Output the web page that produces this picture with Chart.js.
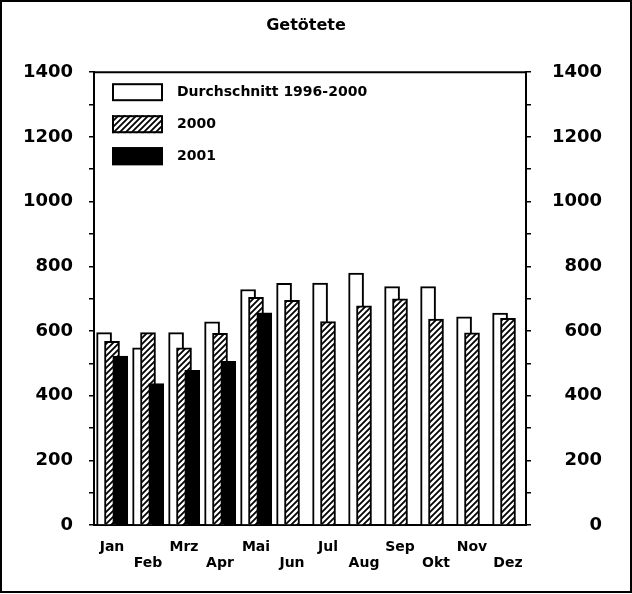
<!DOCTYPE html>
<html>
<head>
<meta charset="utf-8">
<script src="https://cdn.jsdelivr.net/npm/chart.js@4/dist/chart.umd.min.js"></script>
<style>
  body { margin: 0; background: #fff; }
  canvas { display: block; }
</style>
</head>
<body>
<canvas id="getoetete-chart" width="632" height="594"></canvas>
<script>
const months = ['Jan', 'Feb', 'Mrz', 'Apr', 'Mai', 'Jun', 'Jul', 'Aug', 'Sep', 'Okt', 'Nov', 'Dez'];
const avg9600 = [595, 548, 595, 628, 728, 747, 748, 779, 737, 737, 644, 655];
const y2000 = [568, 595, 548, 593, 704, 695, 629, 678, 699, 637, 594, 639];
const y2001 = [522, 437, 478, 506, 656];
const yLabelled = [0, 200, 400, 600, 800, 1000, 1200, 1400];

// diagonal hatch for the 2000 bars
function hatch() {
  const c = document.createElement('canvas');
  c.width = 6;
  c.height = 6;
  const g = c.getContext('2d');
  g.fillStyle = '#fff';
  g.fillRect(0, 0, 6, 6);
  g.strokeStyle = '#000';
  g.lineWidth = 1.8;
  g.beginPath();
  g.moveTo(-1, 7); g.lineTo(7, -1);
  g.moveTo(-4, 4); g.lineTo(4, -4);
  g.moveTo(2, 10); g.lineTo(10, 2);
  g.stroke();
  return g.createPattern(c, 'repeat');
}

const pts = (arr, shift) => arr.map((v, i) => ({ x: i + shift, y: v }));

const frame = {
  id: 'frame',
  beforeDraw(chart) {
    const { ctx } = chart;
    ctx.save();
    ctx.fillStyle = '#fff';
    ctx.fillRect(0, 0, chart.width, chart.height);
    ctx.restore();
  },
  afterDraw(chart) {
    const { ctx, chartArea } = chart;
    ctx.save();
    ctx.strokeStyle = '#000';
    ctx.lineWidth = 2;
    ctx.strokeRect(1, 1, chart.width - 2, chart.height - 3);
    ctx.beginPath();
    ctx.moveTo(chartArea.left, chartArea.top);
    ctx.lineTo(chartArea.right, chartArea.top);
    ctx.stroke();
    ctx.restore();
  },
};

// legend drawn inside the plot, one row per dataset
const boxLegend = {
  id: 'boxLegend',
  afterDatasetsDraw(chart) {
    const { ctx, chartArea } = chart;
    ctx.save();
    ctx.font = 'bold 14px "DejaVu Sans"';
    ctx.textBaseline = 'middle';
    chart.data.datasets.forEach((ds, i) => {
      const x = chartArea.left + 18;
      const y = chartArea.top + 11 + i * 32;
      ctx.fillStyle = ds.backgroundColor;
      ctx.fillRect(x, y, 51, 18);
      ctx.strokeStyle = '#000';
      ctx.lineWidth = 2;
      ctx.strokeRect(x + 1, y + 1, 49, 16);
      ctx.fillStyle = '#000';
      ctx.fillText(ds.label, x + 65, y + 9);
    });
    ctx.restore();
  },
};

Chart.defaults.font.family = '"DejaVu Sans", sans-serif';
Chart.defaults.font.weight = 'bold';
Chart.defaults.color = '#000';

const yAxis = (position, width, padding, align) => ({
  position,
  min: 0,
  max: 1400,
  afterFit: (s) => { s.width = width; },
  ticks: {
    stepSize: 100,
    padding,
    crossAlign: align,
    font: { size: 18, weight: 'bold' },
    callback: (v) => (yLabelled.includes(v) ? v : ''),
  },
  grid: { drawOnChartArea: false, drawTicks: true, tickLength: 5, color: '#000', lineWidth: 1.5 },
  border: { display: true, color: '#000', width: 2 },
});

new Chart(document.getElementById('getoetete-chart'), {
  type: 'bar',
  data: {
    datasets: [
      {
        label: 'Durchschnitt 1996-2000',
        data: pts(avg9600, -0.22),
        backgroundColor: '#fff',
        borderColor: '#000',
        borderWidth: 2,
        order: 3,
      },
      {
        label: '2000',
        data: pts(y2000, 0),
        backgroundColor: hatch(),
        borderColor: '#000',
        borderWidth: 2,
        order: 2,
      },
      {
        label: '2001',
        data: pts(y2001, 0.23),
        backgroundColor: '#000',
        borderColor: '#000',
        borderWidth: 2,
        order: 1,
      },
    ],
  },
  options: {
    responsive: false,
    animation: false,
    events: [],
    layout: { padding: { left: 10, right: 30, top: 0, bottom: 10 } },
    datasets: { bar: { grouped: false, barThickness: 15 } },
    plugins: {
      legend: { display: false },
      tooltip: { enabled: false },
      title: {
        display: true,
        text: 'Getötete',
        color: '#000',
        font: { size: 16, weight: 'bold' },
        padding: { top: 16, bottom: 37 },
      },
    },
    scales: {
      x: {
        type: 'linear',
        position: 'bottom',
        offset: false,
        min: -0.5,
        max: 11.5,
        afterFit: (s) => { s.height = 59; },
        afterBuildTicks: (s) => { s.ticks = months.map((m, i) => ({ value: i })); },
        ticks: {
          autoSkip: false,
          maxRotation: 0,
          padding: 14,
          font: { size: 14, weight: 'bold', lineHeight: '16px' },
          callback: (v) => {
            const m = months[v];
            if (m === undefined) return '';
            return v % 2 === 0 ? [m, ''] : ['', m];
          },
        },
        grid: { display: false, drawTicks: false, tickLength: 0 },
        border: { display: true, color: '#000', width: 2 },
      },
      y: yAxis('left', 84, 16, 'near'),
      y2: yAxis('right', 76, 19, 'far'),
    },
  },
  plugins: [frame, boxLegend],
});
</script>
</body>
</html>
